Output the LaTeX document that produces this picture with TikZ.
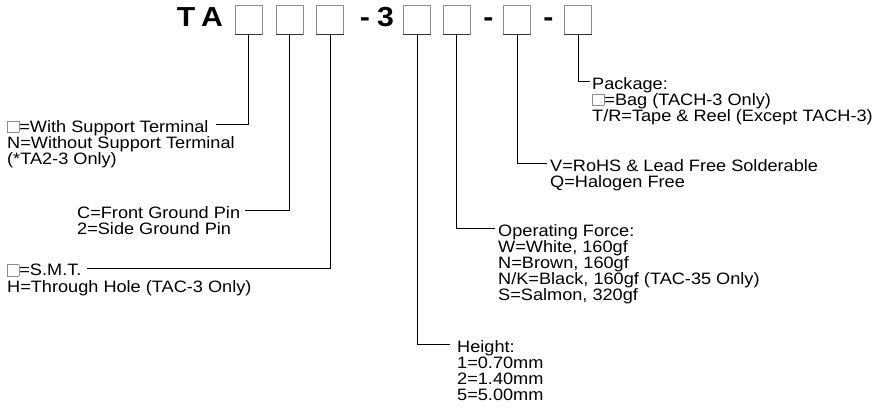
\documentclass[tikz,border=0pt]{standalone}
\usepackage{fontspec}
\setmainfont{Liberation Sans}[FakeStretch=1.1]
\usetikzlibrary{positioning}
\newcommand{\sqbox}{{\color{black!45}\setlength{\fboxsep}{0pt}\setlength{\fboxrule}{0.6pt}\fbox{\rule{0pt}{11pt}\hspace{11pt}}}}

\begin{document}
\begin{tikzpicture}[x=1pt,y=-1pt,font=\fontsize{16.5}{16}\selectfont,
slot/.style={draw=black!45,line width=0.7pt,minimum width=27pt,minimum height=29pt,inner sep=0pt},
big/.style={font=\fontsize{27.5}{30}\selectfont\bfseries,inner sep=0pt,anchor=base},
lbl/.style={align=left,inner sep=0pt,anchor=north west,execute at begin node=\strut},
lead/.style={line width=0.8pt}]
\useasboundingbox (0,0) rectangle (878,417);
% part number
\node[big] (t) at (186,27) {T};
\node[big] (a) at (212,27) {A};
\node[slot] (b1) at (248.5,19.5) {};
\node[slot] (b2) at (289.5,19.5) {};
\node[slot] (b3) at (330,19.5) {};
\node[big] (d1) at (365,27) {-};
\node[big] (three) at (385.5,27) {3};
\node[slot] (b4) at (417,19.5) {};
\node[slot] (b5) at (456.5,19.5) {};
\node[big] (d2) at (488.5,27) {-};
\node[slot] (b6) at (517,19.5) {};
\node[big] (d3) at (548.5,27) {-};
\node[slot] (b7) at (578,19.5) {};
\foreach \b in {b1,b2,b3,b4,b5,b6,b7}
  \draw[line width=1.3pt,black!80] (\b.south west) -- (\b.south east);
% left labels
\node[lbl] (lsup) at (7,120) {\sqbox=With Support Terminal};
\node[lbl] (lsupx) at ([yshift=-16pt]lsup.north west) {N=Without Support Terminal\\(*TA2-3 Only)};
\node[lbl] (lpin) at (77,206) {C=Front Ground Pin};
\node[lbl] (lpinx) at ([yshift=-16pt]lpin.north west) {2=Side Ground Pin};
\node[lbl] (lmnt) at (7,264) {\sqbox=S.M.T.};
\node[lbl] (lmntx) at ([yshift=-16pt]lmnt.north west) {H=Through Hole (TAC-3 Only)};
% right labels
\node[lbl] (lht) at (457,340) {Height:\\1=0.70mm\\2=1.40mm\\5=5.00mm};
\node[lbl] (lfor) at (498,224) {Operating Force:\\W=White, 160gf\\N=Brown, 160gf\\N/K=Black, 160gf (TAC-35 Only)\\S=Salmon, 320gf};
\node[lbl] (lrohs) at (550,159) {V=RoHS \& Lead Free Solderable\\Q=Halogen Free};
\node[lbl] (lpkg) at (592,77) {Package:\\\sqbox=Bag (TACH-3 Only)\\T/R=Tape \& Reel (Except TACH-3)};
% leads
\draw[lead] (b1.south) |- ([xshift=7pt,yshift=-4.8pt]lsup.north east);
\draw[lead] (b2.south) |- ([xshift=5pt,yshift=-4.8pt]lpin.north east);
\draw[lead] (b3.south) |- ([xshift=5pt,yshift=-4.8pt]lmnt.north east);
\draw[lead] (b4.south) |- ([xshift=-7pt,yshift=-4.8pt]lht.north west);
\draw[lead] (b5.south) |- ([xshift=-3pt,yshift=-4.8pt]lfor.north west);
\draw[lead] (b6.south) |- ([xshift=-3pt,yshift=-4.8pt]lrohs.north west);
\draw[lead] (b7.south) |- ([xshift=-2pt,yshift=-4.8pt]lpkg.north west);
\end{tikzpicture}
\end{document}
